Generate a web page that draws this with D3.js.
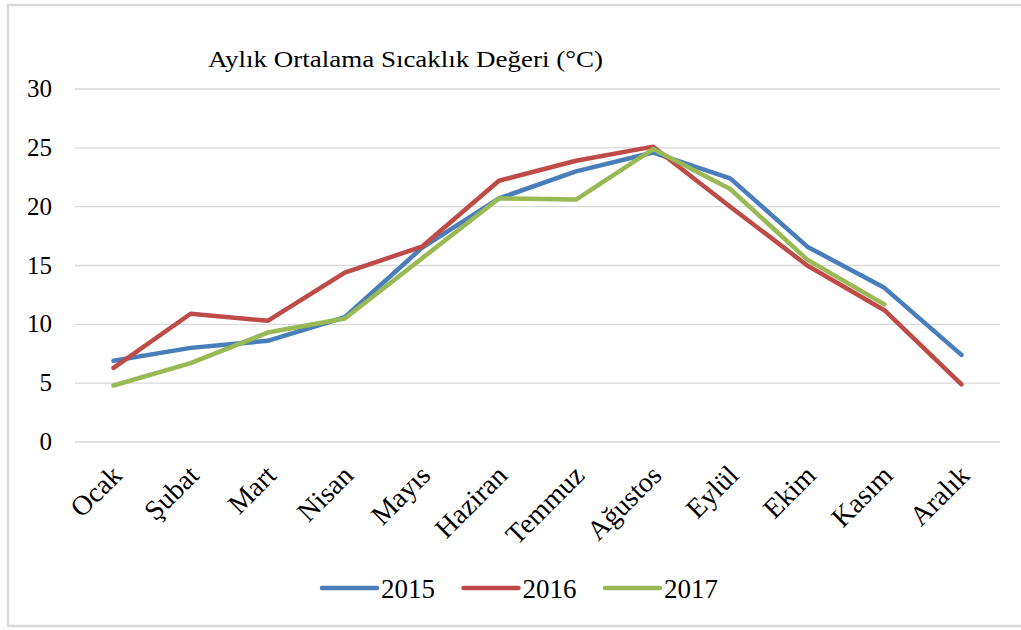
<!DOCTYPE html>
<head>
  <meta charset="utf-8">
  <script src="https://d3js.org/d3.v7.min.js"></script>
  <style>
  body,html {background:white;margin:0;}
  svg text {font-family:"Liberation Serif","DejaVu Serif","Noto Serif",serif;fill:#000;}
  .grid line {stroke:#d9d9d9;stroke-width:1.3;}
</style>
</head>
<body>
<svg></svg>
<script>

  const width = 1021;
  const height = 630;

  const months = ["Ocak","Şubat","Mart","Nisan","Mayıs","Haziran","Temmuz","Ağustos","Eylül","Ekim","Kasım","Aralık"];
  const years = ["2015","2016","2017"];
  const colors = ["#4a7ebb","#be4b48","#98b954"];
  const t2015 = [6.9, 8.0, 8.6, 10.6, 16.5, 20.7, 23.0, 24.6, 22.4, 16.6, 13.1, 7.4];
  const t2016 = [6.3, 10.9, 10.3, 14.4, 16.6, 22.2, 23.9, 25.1, 20.0, 15.0, 11.2, 4.9];
  const t2017 = [4.8, 6.7, 9.3, 10.5, 15.6, 20.7, 20.6, 24.9, 21.5, 15.5, 11.7, null];
  const yTicks = [0, 5, 10, 15, 20, 25, 30];
  const series = [t2015, t2016, t2017];

  let svg = d3.select("svg")
    .attr("width", width)
    .attr("height", height);

  // outer frame
  svg.append("rect")
    .attr("x", 8).attr("y", 5)
    .attr("width", 1030).attr("height", 621)
    .attr("fill", "none")
    .attr("stroke", "#d9d9d9")
    .attr("stroke-width", 2.5);

  let x = d3.scaleBand().domain(months).range([75, 1000]);
  let y = d3.scaleLinear().domain([0, 30]).range([442, 89]);

  // gridlines
  svg.append("g")
    .attr("class", "grid")
    .selectAll("line")
    .data(yTicks)
    .enter()
    .append("line")
    .attr("x1", 75).attr("x2", 1000)
    .attr("y1", d=>y(d)).attr("y2", d=>y(d));

  // y labels
  svg.append("g")
    .selectAll("text")
    .data(yTicks)
    .enter()
    .append("text")
    .style("font-size", "25px")
    .attr("text-anchor", "end")
    .attr("x", 52)
    .attr("y", d=>y(d) + 8)
    .text(d=>d);

  // x labels
  svg.append("g")
    .selectAll("text")
    .data(months)
    .enter()
    .append("text")
    .style("font-size", "28px")
    .attr("text-anchor", "end")
    .attr("transform", d=>`translate(${x(d) + x.bandwidth()/2 + 10},${477}) rotate(-45)`)
    .text(d=>d);

  // lines
  const line = d3.line()
    .defined(d=>d !== null)
    .x((d,i)=>x(months[i]) + x.bandwidth()/2)
    .y(d=>y(d));

  svg.append("g")
    .selectAll("path")
    .data(series)
    .enter()
    .append("path")
    .attr("d", d=>line(d))
    .attr("fill", "none")
    .attr("stroke", (d,i)=>colors[i])
    .attr("stroke-width", 4.5)
    .attr("stroke-linejoin", "round")
    .attr("stroke-linecap", "round");

  // title
  svg.append("text")
    .attr("x", 208)
    .attr("y", 67)
    .style("font-size", "24px")
    .attr("textLength", 395)
    .attr("lengthAdjust", "spacingAndGlyphs")
    .text("Aylık Ortalama Sıcaklık Değeri (°C)");

  // legend
  let legend = svg.append("g")
    .selectAll("g")
    .data(years)
    .enter()
    .append("g")
    .attr("transform", (d,i)=>`translate(${322 + i*141.5},588)`);

  legend.append("line")
    .attr("x1", 0).attr("x2", 55)
    .attr("stroke", (d,i)=>colors[i])
    .attr("stroke-width", 4.5)
    .attr("stroke-linecap", "round");

  legend.append("text")
    .style("font-size", "27px")
    .attr("x", 59)
    .attr("y", 10)
    .text(d=>d);

</script>
</body>
